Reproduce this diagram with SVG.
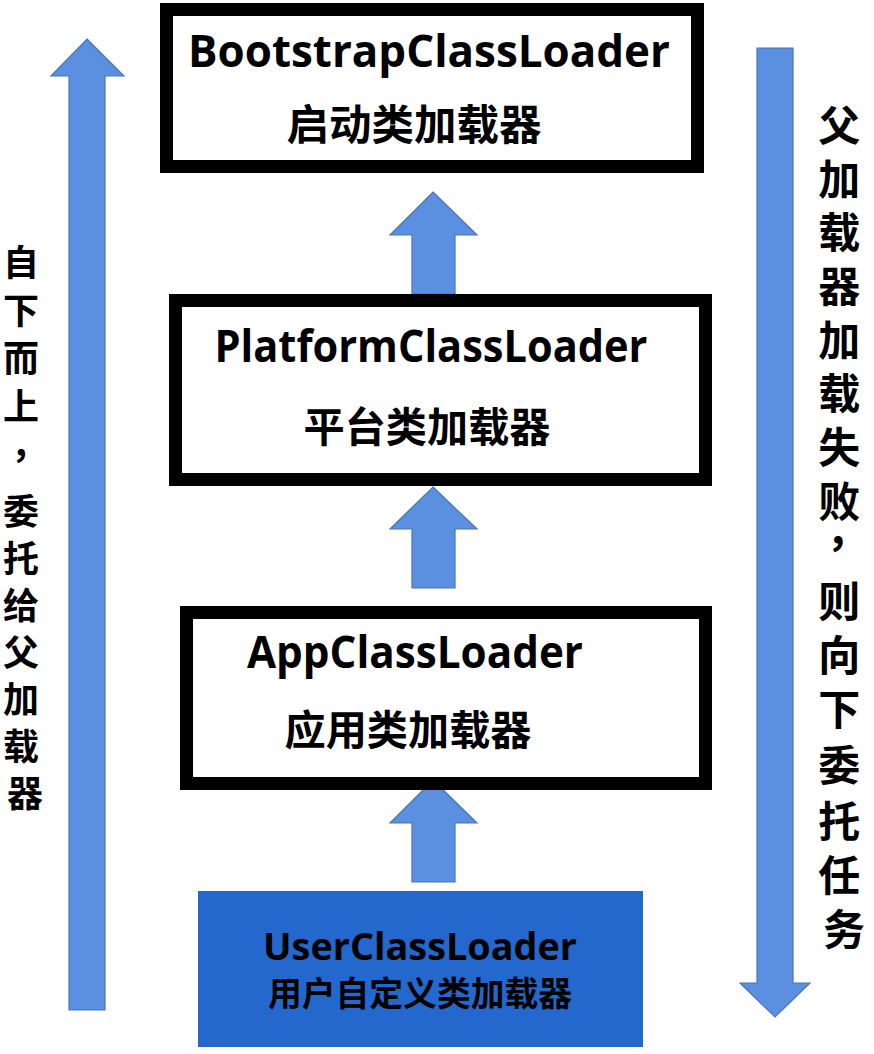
<svg xmlns="http://www.w3.org/2000/svg" width="874" height="1054" viewBox="0 0 874 1054">
<style>
.arrow{fill:#5B8FE0;stroke:#4A74B8;stroke-width:1.2;stroke-linejoin:miter}
.box{fill:#ffffff;stroke:#000000;stroke-width:13}
.en{font-family:"Open Sans","Liberation Sans",sans-serif;font-weight:700;fill:#000;text-anchor:middle}
.zh{font-family:"Noto Sans CJK SC",sans-serif;font-weight:700;fill:#000;text-anchor:middle}
.side{font-family:"Noto Sans CJK SC",sans-serif;font-weight:700;fill:#000;text-anchor:middle}
</style>
<rect width="874" height="1054" fill="#ffffff"/>
<g id="connectors">
<polygon class="arrow" points="87,39 124,76 105,76 105,1010 69,1010 69,76 51,76"/>
<polygon class="arrow" points="757,48 793,48 793,983 810,983 775,1017 740,983 757,983"/>
<polygon class="arrow" points="433,192 477,235 455,235 455,294 412,294 412,235 390,235"/>
<polygon class="arrow" points="433,487 477,529 455,529 455,588 412,588 412,529 390,529"/>
<polygon class="arrow" points="433,780 477,823 455,823 455,882 412,882 412,823 390,823"/>
</g>
<g id="bootstrap">
<rect class="box" x="166.5" y="9.5" width="531" height="157"/>
<text class="en" x="429" y="67" font-size="44" textLength="482" lengthAdjust="spacingAndGlyphs">BootstrapClassLoader</text>
<text class="zh" x="414" y="140" font-size="42" textLength="255" lengthAdjust="spacingAndGlyphs">启动类加载器</text>
</g>
<g id="platform">
<rect class="box" x="175.5" y="300.5" width="530" height="179"/>
<text class="en" x="431" y="362" font-size="44" textLength="433" lengthAdjust="spacingAndGlyphs">PlatformClassLoader</text>
<text class="zh" x="427" y="442" font-size="41" textLength="247" lengthAdjust="spacingAndGlyphs">平台类加载器</text>
</g>
<g id="app">
<rect class="box" x="186.5" y="612.5" width="519" height="171"/>
<text class="en" x="415" y="668" font-size="44" textLength="336" lengthAdjust="spacingAndGlyphs">AppClassLoader</text>
<text class="zh" x="408" y="745" font-size="41" textLength="247" lengthAdjust="spacingAndGlyphs">应用类加载器</text>
</g>
<g id="user">
<rect x="198" y="891" width="445" height="156" fill="#2468CE"/>
<text class="en" x="420" y="960" font-size="38" fill="#0a0f1e" textLength="314" lengthAdjust="spacingAndGlyphs">UserClassLoader</text>
<text class="zh" x="420" y="1006" font-size="34" fill="#0a0f1e" textLength="304" lengthAdjust="spacingAndGlyphs">用户自定义类加载器</text>
</g>
<g id="left-label">
<text class="side" font-size="36">
<tspan x="25" y="276">自</tspan>
<tspan x="25" y="324">下</tspan>
<tspan x="25" y="372">而</tspan>
<tspan x="25" y="420">上</tspan>
<tspan x="33" y="458">，</tspan>
<tspan x="25" y="525">委</tspan>
<tspan x="25" y="572">托</tspan>
<tspan x="25" y="619">给</tspan>
<tspan x="25" y="666">父</tspan>
<tspan x="25" y="713">加</tspan>
<tspan x="25" y="760">载</tspan>
<tspan x="25" y="807">器</tspan>
</text>
</g>
<g id="right-label">
<text class="side" font-size="42">
<tspan x="844" y="141">父</tspan>
<tspan x="844" y="195">加</tspan>
<tspan x="844" y="248">载</tspan>
<tspan x="844" y="302">器</tspan>
<tspan x="844" y="356">加</tspan>
<tspan x="844" y="409">载</tspan>
<tspan x="844" y="463">失</tspan>
<tspan x="844" y="517">败</tspan>
<tspan x="852" y="546">，</tspan>
<tspan x="844" y="617">则</tspan>
<tspan x="844" y="671">向</tspan>
<tspan x="844" y="725">下</tspan>
<tspan x="844" y="781">委</tspan>
<tspan x="844" y="837">托</tspan>
<tspan x="844" y="891">任</tspan>
<tspan x="844" y="945">务</tspan>
</text>
</g>
</svg>
